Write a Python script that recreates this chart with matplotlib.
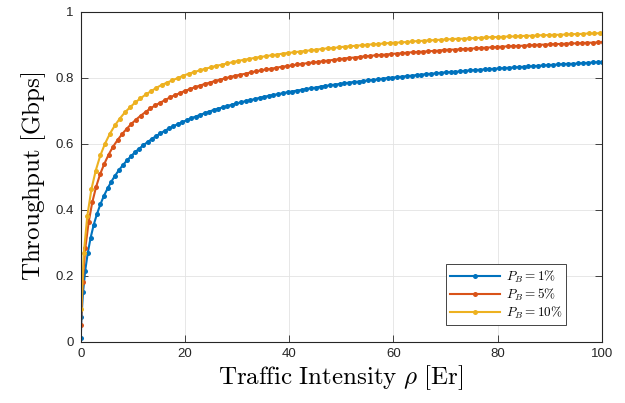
import matplotlib as mpl
import matplotlib.pyplot as plt

mpl.rcParams['mathtext.fontset'] = 'cm'
mpl.rcParams['font.family'] = 'Liberation Sans'

# offered load rho [Er] and throughput [Gbps], one point per server count
rho_1 = [0.0101, 0.153, 0.455, 0.869, 1.36, 1.91, 2.50, 3.13, 3.78, 4.46,
         5.16, 5.88, 6.61, 7.35, 8.11, 8.88, 9.65, 10.44, 11.23, 12.03,
         12.84, 13.65, 14.47, 15.30, 16.13, 16.96, 17.80, 18.64, 19.49, 20.34,
         21.19, 22.05, 22.91, 23.77, 24.64, 25.51, 26.38, 27.25, 28.13, 29.01,
         29.89, 30.77, 31.66, 32.54, 33.43, 34.32, 35.22, 36.11, 37.00, 37.90,
         38.80, 39.70, 40.60, 41.51, 42.41, 43.32, 44.23, 45.13, 46.04, 46.95,
         47.87, 48.78, 49.70, 50.61, 51.53, 52.44, 53.36, 54.27, 55.19, 56.10,
         57.03, 57.96, 58.89, 59.82, 60.75, 61.68, 62.61, 63.54, 64.47, 65.40,
         66.33, 67.26, 68.19, 69.12, 70.05, 70.98, 71.91, 72.84, 73.77, 74.70,
         75.64, 76.57, 77.51, 78.44, 79.38, 80.32, 81.25, 82.19, 83.12, 84.06,
         85.00, 85.95, 86.89, 87.84, 88.78, 89.72, 90.67, 91.61, 92.56, 93.50,
         94.45, 95.40, 96.35, 97.30, 98.25, 99.20, 100.15, 101.10]
thr_1 = [0.010, 0.0757, 0.150, 0.215, 0.269, 0.315, 0.354, 0.387, 0.416, 0.442,
         0.464, 0.485, 0.503, 0.520, 0.535, 0.549, 0.562, 0.574, 0.585, 0.595,
         0.605, 0.614, 0.623, 0.631, 0.639, 0.646, 0.653, 0.659, 0.665, 0.671,
         0.677, 0.682, 0.687, 0.692, 0.697, 0.702, 0.706, 0.710, 0.714, 0.718,
         0.722, 0.725, 0.729, 0.732, 0.735, 0.739, 0.742, 0.745, 0.748, 0.750,
         0.753, 0.756, 0.758, 0.761, 0.763, 0.766, 0.768, 0.770, 0.773, 0.775,
         0.777, 0.779, 0.781, 0.783, 0.785, 0.787, 0.788, 0.790, 0.792, 0.793,
         0.795, 0.797, 0.799, 0.800, 0.802, 0.803, 0.805, 0.806, 0.808, 0.809,
         0.811, 0.812, 0.813, 0.815, 0.816, 0.817, 0.818, 0.819, 0.821, 0.822,
         0.823, 0.824, 0.825, 0.826, 0.827, 0.828, 0.829, 0.830, 0.831, 0.832,
         0.833, 0.834, 0.835, 0.836, 0.837, 0.838, 0.839, 0.840, 0.841, 0.842,
         0.842, 0.843, 0.844, 0.845, 0.846, 0.847, 0.847, 0.848]

rho_5 = [0.0526, 0.381, 0.899, 1.52, 2.22, 2.96, 3.74, 4.54, 5.37, 6.22,
         7.08, 7.95, 8.83, 9.73, 10.63, 11.54, 12.46, 13.39, 14.32, 15.25,
         16.19, 17.13, 18.08, 19.03, 19.99, 20.94, 21.90, 22.87, 23.83, 24.80,
         25.77, 26.75, 27.72, 28.70, 29.68, 30.66, 31.64, 32.63, 33.61, 34.60,
         35.59, 36.58, 37.57, 38.56, 39.55, 40.54, 41.54, 42.54, 43.54, 44.53,
         45.54, 46.54, 47.55, 48.56, 49.56, 50.57, 51.58, 52.59, 53.59, 54.60,
         55.61, 56.62, 57.63, 58.64, 59.65, 60.66, 61.67, 62.68, 63.69, 64.70,
         65.71, 66.72, 67.73, 68.74, 69.75, 70.76, 71.77, 72.78, 73.79, 74.80,
         75.82, 76.84, 77.86, 78.88, 79.90, 80.92, 81.94, 82.96, 83.98, 85.00,
         86.02, 87.04, 88.06, 89.08, 90.10, 91.12, 92.14, 93.16, 94.18, 95.20,
         96.22, 97.24, 98.26, 99.28, 100.30, 101.32]
thr_5 = [0.050, 0.181, 0.285, 0.361, 0.422, 0.469, 0.508, 0.539, 0.567, 0.591,
         0.611, 0.629, 0.645, 0.660, 0.673, 0.685, 0.696, 0.707, 0.716, 0.724,
         0.732, 0.740, 0.747, 0.753, 0.760, 0.765, 0.771, 0.776, 0.781, 0.785,
         0.790, 0.794, 0.798, 0.802, 0.806, 0.809, 0.812, 0.816, 0.819, 0.822,
         0.825, 0.827, 0.830, 0.833, 0.835, 0.837, 0.840, 0.842, 0.844, 0.846,
         0.848, 0.850, 0.852, 0.854, 0.856, 0.858, 0.860, 0.861, 0.863, 0.865,
         0.866, 0.868, 0.869, 0.870, 0.872, 0.873, 0.874, 0.876, 0.877, 0.878,
         0.879, 0.880, 0.881, 0.882, 0.884, 0.885, 0.885, 0.886, 0.887, 0.888,
         0.889, 0.890, 0.891, 0.892, 0.893, 0.894, 0.895, 0.896, 0.896, 0.897,
         0.898, 0.899, 0.900, 0.900, 0.901, 0.902, 0.902, 0.903, 0.904, 0.904,
         0.905, 0.906, 0.906, 0.907, 0.908, 0.908]

rho_10 = [0.111, 0.595, 1.27, 2.05, 2.88, 3.76, 4.67, 5.60, 6.55, 7.51,
          8.49, 9.47, 10.47, 11.47, 12.48, 13.50, 14.52, 15.55, 16.58, 17.61,
          18.65, 19.69, 20.74, 21.78, 22.83, 23.88, 24.94, 26.00, 27.05, 28.11,
          29.17, 30.24, 31.30, 32.37, 33.43, 34.50, 35.57, 36.64, 37.72, 38.79,
          39.86, 40.94, 42.01, 43.09, 44.17, 45.24, 46.32, 47.40, 48.48, 49.56,
          50.64, 51.73, 52.81, 53.90, 54.98, 56.06, 57.15, 58.23, 59.32, 60.40,
          61.49, 62.58, 63.67, 64.76, 65.85, 66.94, 68.03, 69.12, 70.21, 71.30,
          72.39, 73.48, 74.57, 75.66, 76.75, 77.84, 78.93, 80.02, 81.11, 82.20,
          83.29, 84.38, 85.47, 86.56, 87.65, 88.74, 89.83, 90.92, 92.01, 93.10,
          94.20, 95.30, 96.40, 97.50, 98.60, 99.70, 100.80]
thr_10 = [0.100, 0.268, 0.381, 0.461, 0.518, 0.564, 0.600, 0.630, 0.655, 0.676,
          0.695, 0.710, 0.725, 0.737, 0.749, 0.759, 0.769, 0.778, 0.785, 0.792,
          0.799, 0.806, 0.812, 0.817, 0.822, 0.827, 0.831, 0.836, 0.839, 0.843,
          0.847, 0.851, 0.854, 0.857, 0.860, 0.863, 0.865, 0.868, 0.870, 0.873,
          0.875, 0.877, 0.879, 0.881, 0.883, 0.885, 0.887, 0.889, 0.890, 0.892,
          0.894, 0.895, 0.897, 0.898, 0.900, 0.901, 0.902, 0.904, 0.905, 0.906,
          0.907, 0.908, 0.910, 0.911, 0.912, 0.913, 0.914, 0.915, 0.916, 0.917,
          0.918, 0.918, 0.919, 0.920, 0.921, 0.922, 0.923, 0.923, 0.924, 0.925,
          0.925, 0.926, 0.927, 0.927, 0.928, 0.929, 0.929, 0.930, 0.930, 0.931,
          0.932, 0.932, 0.933, 0.934, 0.934, 0.935, 0.935]

labels = [r'$P_B = 1\%$', r'$P_B = 5\%$', r'$P_B = 10\%$']
colors = ['#0072BD', '#D95319', '#EDB120']

fig = plt.figure(figsize=(6.25, 4.03), dpi=100)
ax = fig.add_axes([80.7/625, 1 - 341.5/403, 521/625, 329.8/403])

for x, y, lab, c in zip([rho_1, rho_5, rho_10], [thr_1, thr_5, thr_10],
                        labels, colors):
    ax.plot(x, y, '-o', color=c, lw=1.5, ms=3.6, mew=0, label=lab)

ax.set_xlim(0, 100)
ax.set_ylim(0, 1)
ax.set_xticks([0, 20, 40, 60, 80, 100])
ax.set_yticks([0, 0.2, 0.4, 0.6, 0.8, 1])
ax.set_yticklabels(['0', '0.2', '0.4', '0.6', '0.8', '1'])
ax.grid(True, color='#e3e3e3', lw=0.6)
ax.set_axisbelow(True)
ax.tick_params(direction='in', length=5, width=0.6, top=True, right=True,
               labelsize=9.5, colors='#262626', pad=5)
for s in ax.spines.values():
    s.set_color('#262626')
    s.set_linewidth(0.8)

ax.set_xlabel(r'$\mathrm{Traffic\ Intensity}\ \rho\ \mathrm{[Er]}$',
              fontsize=18, labelpad=2)
ax.set_ylabel(r'$\mathrm{Throughput\ [Gbps]}$', fontsize=18, labelpad=5)

leg = ax.legend(loc='lower right', bbox_to_anchor=(0.932, 0.05), fontsize=9.5,
                fancybox=False, framealpha=1, edgecolor='#262626',
                handlelength=3.8, borderpad=0.3, labelspacing=0.15,
                handletextpad=0.4, borderaxespad=0)
leg.get_frame().set_linewidth(0.6)

fig.savefig('out.png', dpi=100)
